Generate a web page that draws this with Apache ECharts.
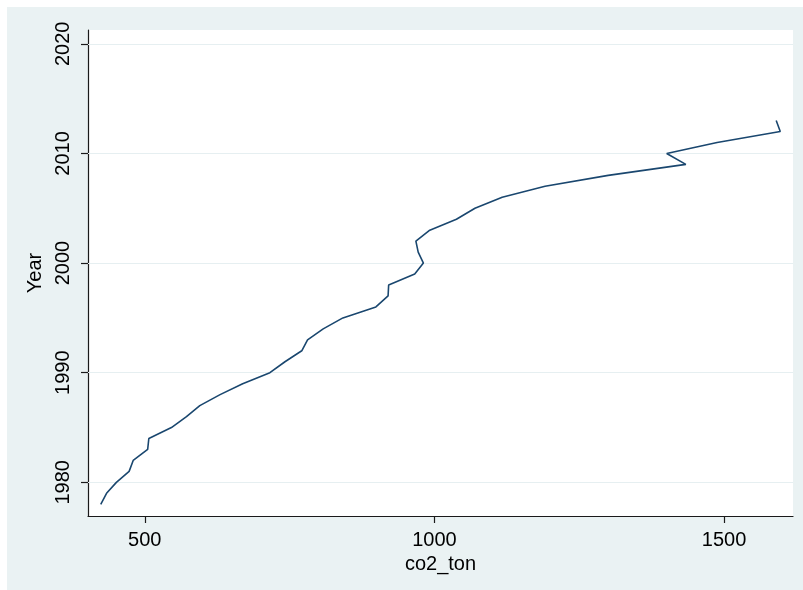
<!DOCTYPE html>
<html>
<head>
<meta charset="utf-8">
<script src="https://cdn.jsdelivr.net/npm/echarts@6/dist/echarts.min.js"></script>
<style>
  html, body { margin: 0; padding: 0; background: #fff; }
  #chart { width: 803px; height: 590px; }
</style>
</head>
<body>
<div id="chart"></div>
<script>
// years and co2_ton values
const years = [
  1978, 1979, 1980, 1981, 1982, 1983, 1984, 1985, 1986, 1987, 1988, 1989,
  1990, 1991, 1992, 1993, 1994, 1995, 1996, 1997, 1998, 1999, 2000, 2001,
  2002, 2003, 2004, 2005, 2006, 2007, 2008, 2009, 2010, 2011, 2012, 2013
];
const co2Ton = [
  424, 434, 451, 473, 480, 505, 507, 546, 572, 595, 630, 669,
  716, 742, 771, 781, 808, 842, 899, 920, 921, 966, 981, 972,
  968, 992, 1038, 1070, 1117, 1191, 1300, 1434, 1401, 1488, 1597, 1590
];
const xTicks = [500, 1000, 1500];
const yTicks = [1980, 1990, 2000, 2010, 2020];

const chart = echarts.init(document.getElementById("chart"));

const font = "'Liberation Sans', Arial, sans-serif";

const option = {
  animation: false,
  backgroundColor: "#fff",
  graphic: [
    {
      type: "rect",
      z: -10,
      shape: { x: 7, y: 7, width: 796, height: 583 },
      style: { fill: "#eaf2f3" },
    },
  ],
  grid: {
    left: 88,
    right: 10,
    top: 30,
    bottom: 74,
    show: true,
    backgroundColor: "#fff",
    borderWidth: 0,
  },
  xAxis: {
    type: "value",
    min: 402,
    max: 1619,
    name: "co2_ton",
    nameLocation: "middle",
    nameGap: 34,
    nameTextStyle: { color: "#000", fontSize: 20, fontFamily: font },
    axisLine: { show: true, onZero: false, lineStyle: { color: "#1a1a1a", width: 1.2 } },
    axisTick: { show: true, length: 7, customValues: xTicks, lineStyle: { color: "#1a1a1a", width: 1.2 } },
    axisLabel: {
      customValues: xTicks,
      formatter: (v) => String(v),
      margin: 14,
      color: "#000",
      fontSize: 20,
      fontFamily: font,
    },
    splitLine: { show: false },
  },
  yAxis: {
    type: "value",
    min: 1976.93,
    max: 2021.26,
    name: "Year",
    nameLocation: "middle",
    nameGap: 42,
    nameTextStyle: { color: "#000", fontSize: 20, fontFamily: font },
    axisLine: { show: true, onZero: false, lineStyle: { color: "#1a1a1a", width: 1.2 } },
    axisTick: { show: true, length: 7, customValues: yTicks, lineStyle: { color: "#1a1a1a", width: 1.2 } },
    axisLabel: {
      customValues: yTicks,
      formatter: (v) => String(v),
      rotate: 90,
      margin: 15,
      color: "#000",
      fontSize: 20,
      fontFamily: font,
    },
    splitLine: { show: false },
  },
  series: [
    {
      type: "line",
      data: years.map((y, i) => [co2Ton[i], y]),
      showSymbol: false,
      lineStyle: { color: "#1a476f", width: 1.6 },
      markLine: {
        silent: true,
        symbol: "none",
        label: { show: false },
        lineStyle: { color: "#e6eff1", width: 1.2, type: "solid" },
        data: yTicks.map((v) => ({ yAxis: v })),
        z: 1,
      },
    },
  ],
};

chart.setOption(option);
</script>
</body>
</html>
